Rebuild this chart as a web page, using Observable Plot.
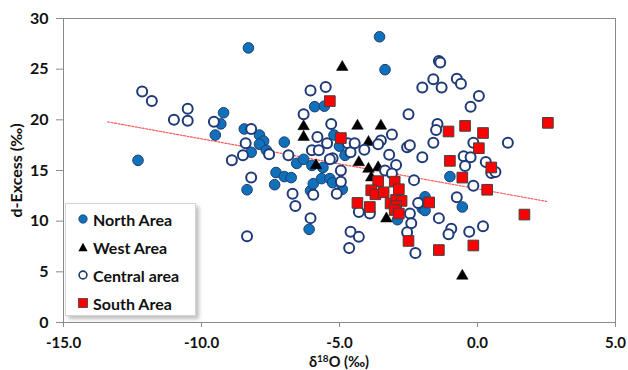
<!DOCTYPE html>
<html>
<head>
<meta charset="utf-8">
<script src="https://cdn.jsdelivr.net/npm/d3@7"></script>
<script src="https://cdn.jsdelivr.net/npm/@observablehq/plot@0.6"></script>
<style>
  html, body { margin: 0; padding: 0; background: #fff; }
  #wrap { position: relative; width: 628px; height: 370px; font-family: Lato, "Open Sans", sans-serif; }
  #legend { position: absolute; left: 65px; top: 203px; width: 131px; height: 113px; background: #fff;
    border: 1px solid #d4d4d4; box-shadow: 3px 3px 4px rgba(0,0,0,0.25); box-sizing: border-box; }
  .row { position: absolute; left: 0; height: 20px; display: flex; align-items: center; font-weight: bold; font-size: 16px; color: #111; }
  .row svg { margin-left: 12px; margin-right: 5px; }
</style>
</head>
<body>
<div id="wrap"></div>
<script>
// ---- data ----
const northX = [-12.3,-8.3,-9.2,-9.3,-9.5,-8.45,-8.2,-7.9,-7.75,-7.9,-7.65,-7.0,-6.55,-5.9,-5.55,-6.3,-6.0,-5.6,-5.2,-5.0,-4.8,-7.3,-7.0,-6.75,-7.35,-8.35,-6.1,-6.05,-5.95,-5.65,-5.35,-5.25,-4.9,-3.55,-3.35,-1.0,-0.55,-1.9,-2.0,-1.9,-2.9];
const northY = [16.0,27.1,20.7,19.6,18.5,19.1,16.8,18.5,17.9,17.6,17.0,17.8,15.7,21.3,21.35,16.1,15.5,15.3,18.5,17.4,16.5,14.8,14.4,14.3,13.6,13.1,9.2,13.0,13.7,14.2,14.2,13.8,13.15,28.2,24.95,14.4,11.4,12.4,11.25,11.05,10.15];

const westX = [-6.3,-6.3,-5.85,-4.9,-4.35,-3.5,-3.95,-4.3,-3.95,-3.6,-3.3,-0.55,-3.85];
const westY = [19.35,18.3,15.5,25.2,19.4,19.4,17.8,15.8,15.15,15.3,10.25,4.6,14.3];

const centralX = [-12.15,-11.8,-10.5,-11.0,-10.5,-9.55,-8.2,-8.4,-8.5,-8.9,-8.2,-7.55,-6.85,-6.3,-6.05,-5.5,-5.8,-6.0,-5.75,-5.3,-5.45,-4.7,-5.25,-4.6,-4.95,-6.7,-6.6,-8.35,-6.05,-5.95,-4.95,-5.1,-4.6,-4.3,-4.65,-4.3,-3.9,-2.0,-1.6,-1.3,-0.75,-0.6,-1.4,-1.35,0.05,-0.25,-2.5,-1.45,-1.5,-1.6,-3.1,-3.5,-3.6,-4.45,-4.1,-2.55,-2.45,-3.2,-2.0,-2.95,-3.35,-3.1,-2.3,-2.45,-2.4,-2.55,-2.25,-2.15,-1.4,-0.95,-1.05,-0.3,0.2,-0.75,-0.15,-0.15,1.1,-0.5,-0.25,-0.45,0.3,0.5,0.65,-5.35];
const centralY = [22.8,21.85,21.1,20.0,19.9,19.8,19.1,17.7,16.5,16.0,14.3,16.6,16.5,20.55,22.9,23.25,18.3,17.0,17.0,19.6,17.7,17.7,16.2,16.8,15.0,12.7,11.5,8.5,10.3,12.6,13.9,12.7,8.95,8.45,7.35,10.9,10.75,23.2,24.0,23.2,24.05,23.55,25.8,25.65,22.35,21.3,20.55,19.6,19.0,17.75,18.55,17.95,17.6,17.7,17.05,17.3,17.5,16.55,16.3,15.55,15.0,14.7,14.05,10.75,9.8,8.9,6.85,11.8,10.3,9.25,8.7,8.95,9.5,12.35,13.5,17.75,17.75,16.4,16.3,15.45,15.85,14.75,14.85,16.1];

const southX = [-5.35,-4.95,-1.05,-0.45,0.2,2.55,0.05,-1.0,0.5,-0.55,0.35,1.7,-0.15,-1.4,-2.5,-1.75,-3.6,-3.0,-3.85,-3.7,-3.4,-2.85,-4.35,-3.9,-3.15,-2.95,-2.75,-2.95,-3.0,-2.85];
const southY = [21.85,18.2,18.85,19.4,18.7,19.7,17.2,15.95,15.3,14.3,13.1,10.65,7.6,7.15,8.05,11.85,13.95,13.9,13.05,12.65,12.85,13.15,11.8,11.4,11.75,12.1,12.0,11.5,11.1,10.75];

const trendX = [-13.4, 2.5];
const trendY = [19.8, 11.95];

const xTicks = [-15, -10, -5, 0, 5];
const yTicks = [0, 5, 10, 15, 20, 25, 30];

const legendLabels = ["North Area", "West Area", "Central area", "South Area"];

// ---- tables ----
const zip = (xs, ys) => xs.map((x, i) => ({x, y: ys[i]}));
const north = zip(northX, northY);
const west = zip(westX, westY);
const central = zip(centralX, centralY);
const south = zip(southX, southY);
const trend = zip(trendX, trendY);

const chart = Plot.plot({
  width: 628, height: 370,
  marginLeft: 63, marginRight: 13, marginTop: 18, marginBottom: 48,
  style: {fontFamily: "Lato, 'Open Sans', sans-serif", fontWeight: "bold", fontSize: "16px", color: "#111", background: "#fff"},
  x: {domain: [-15, 5]},
  y: {domain: [0, 30]},
  marks: [
    Plot.frame({stroke: "#8a8a8a"}),
    Plot.axisX({ticks: xTicks, tickFormat: d => d.toFixed(1), tickSize: 5, tickPadding: 10, stroke: "#8a8a8a", label: null, fontSize: 15}),
    Plot.axisY({ticks: yTicks, tickFormat: d => String(d), tickSize: 7, tickPadding: 8, stroke: "#8a8a8a",
      label: "d-Excess (‰)", labelAnchor: "center", labelArrow: "none", labelOffset: 53, fontSize: 16}),
    Plot.line(trend, {x: "x", y: "y", stroke: "#ff5a5a", strokeWidth: 1.2, strokeDasharray: "2,1.5"}),
    Plot.dot(north, {x: "x", y: "y", r: 5.3, fill: "#1170BA", stroke: "#1c3f73", strokeWidth: 1}),
    Plot.dot(west, {x: "x", y: "y", symbol: "triangle", r: 4.3, fill: "#000", stroke: "#000", strokeWidth: 0.5}),
    Plot.dot(central, {x: "x", y: "y", r: 5, fill: "#fff", stroke: "#1F3A78", strokeWidth: 2}),
    Plot.dot(south, {x: "x", y: "y", symbol: "square", r: 6, fill: "#ff0000", stroke: "#404040", strokeWidth: 1})
  ]
});

const wrap = document.getElementById("wrap");
wrap.appendChild(chart);

// x axis title with superscript
const svg = d3.select(chart);
const t = svg.append("text")
  .attr("x", 339).attr("y", 367)
  .attr("text-anchor", "middle")
  .attr("font-family", "Lato, 'Open Sans', sans-serif")
  .attr("font-weight", "bold").attr("font-size", 14.5).attr("fill", "#111");
t.append("tspan").text("δ");
t.append("tspan").attr("font-size", 10).attr("dy", -5).text("18");
t.append("tspan").attr("dy", 5).text("O (‰)");

// legend
const legend = document.createElement("div");
legend.id = "legend";
const symbols = [
  '<svg width="10" height="10"><circle cx="5" cy="5" r="4.2" fill="#1170BA" stroke="#1c3f73" stroke-width="0.8"/></svg>',
  '<svg width="10" height="10"><path d="M5,0.8 L9.6,9.2 L0.4,9.2 Z" fill="#000"/></svg>',
  '<svg width="10" height="10"><circle cx="5" cy="5" r="3.9" fill="#fff" stroke="#1F3A78" stroke-width="1.6"/></svg>',
  '<svg width="10" height="10"><rect x="0.5" y="0.5" width="9" height="9" fill="#ff0000" stroke="#404040" stroke-width="0.8"/></svg>'
];
legendLabels.forEach((lab, i) => {
  const row = document.createElement("div");
  row.className = "row";
  row.style.top = (5 + i * 28) + "px";
  row.innerHTML = symbols[i] + "<span>" + lab + "</span>";
  legend.appendChild(row);
});
wrap.appendChild(legend);
</script>
</body>
</html>
